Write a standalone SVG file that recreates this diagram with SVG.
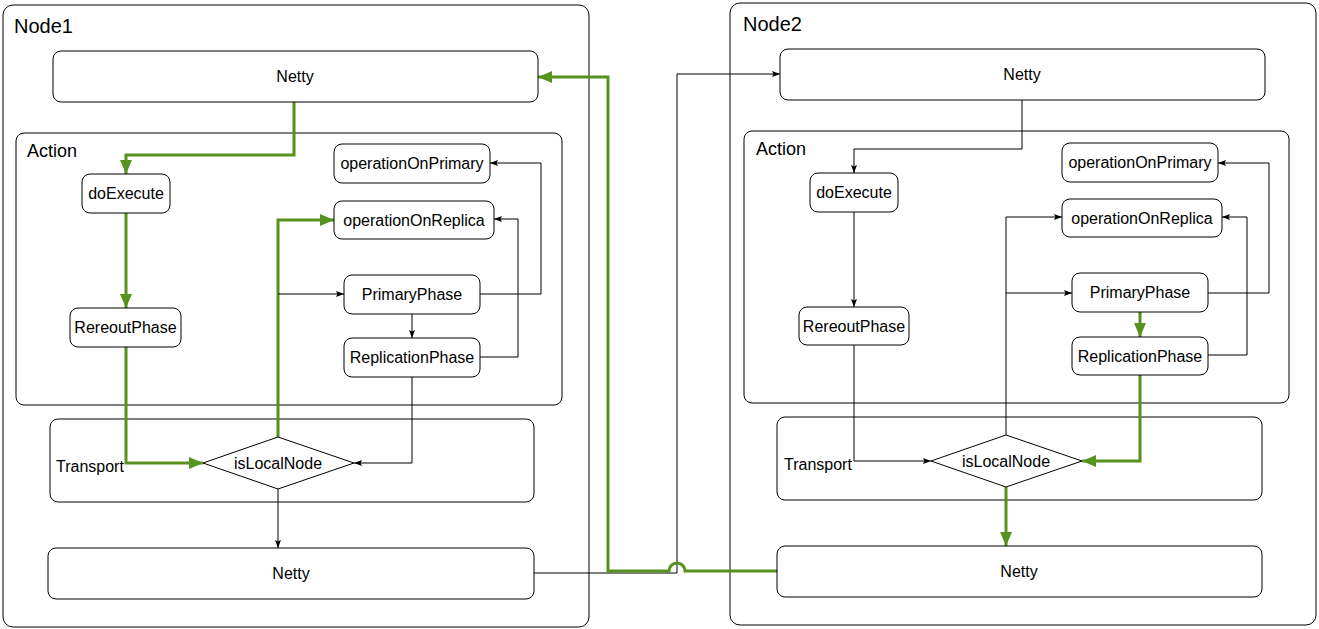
<svg xmlns="http://www.w3.org/2000/svg" width="1319" height="629" viewBox="0 0 1319 629">
<style>
.box{fill:#fff;stroke:#000;stroke-width:1}
.grp{fill:none;stroke:#000;stroke-width:1}
.t{font-family:"Liberation Sans",Arial,Helvetica,sans-serif;font-size:16px;fill:#000;text-anchor:middle}
.tl{font-family:"Liberation Sans",Arial,Helvetica,sans-serif;fill:#000}
.k{fill:none;stroke:#000;stroke-width:1;marker-end:url(#ak)}
.g{fill:none;stroke:#56921E;stroke-width:3;marker-end:url(#ag)}
</style>
<defs>
<marker id="ak" viewBox="0 0 8 6" refX="8" refY="3" markerWidth="8" markerHeight="6" markerUnits="userSpaceOnUse" orient="auto"><path d="M0,0 L8,3 L0,6 L1.5,3 z" fill="#000"/></marker>
<marker id="ag" viewBox="0 0 14 12" refX="14" refY="6" markerWidth="14" markerHeight="12" markerUnits="userSpaceOnUse" orient="auto"><path d="M0,0 L14,6 L0,12 z" fill="#56921E"/></marker>
</defs>
<rect width="1319" height="629" fill="#fff"/>
<g id="node1">
<rect class="grp" x="3" y="5" width="586" height="622" rx="10"/>
<text class="tl" x="14" y="33" font-size="20">Node1</text>
</g>
<g id="node2">
<rect class="grp" x="730" y="3" width="586" height="622" rx="10"/>
<text class="tl" x="743" y="31" font-size="20">Node2</text>
</g>
<g id="action1">
<rect class="grp" x="16" y="133" width="546" height="272" rx="8"/>
<text class="tl" x="27" y="157" font-size="18">Action</text>
</g>
<g id="action2">
<rect class="grp" x="744" y="131" width="545" height="272" rx="8"/>
<text class="tl" x="756" y="155" font-size="18">Action</text>
</g>
<g id="transport1">
<rect class="grp" x="50" y="419" width="484" height="83" rx="8"/>
<text class="tl" x="56" y="472" font-size="16">Transport</text>
</g>
<g id="transport2">
<rect class="grp" x="777" y="417" width="485" height="83" rx="8"/>
<text class="tl" x="784" y="470" font-size="16">Transport</text>
</g>
<g id="connectors">
<path class="g" d="M294,102 L294,155 L126,155 L126,174"/>
<path class="g" d="M126,213 L126,308"/>
<path class="g" d="M126,347 L126,463 L203,463"/>
<path class="g" d="M278,437 L278,220 L334,220"/>
<path class="k" d="M278,294 L344,294"/>
<path class="k" d="M480,294 L541,294 L541,163 L490,163"/>
<path class="k" d="M412,314 L412,338"/>
<path class="k" d="M480,357 L518,357 L518,219 L494,219"/>
<path class="k" d="M412,377 L412,463 L354,463"/>
<path class="k" d="M278,489 L278,548"/>
<path class="k" d="M534,573 L677,573 L677,74 L780,74"/>
<path class="g" d="M777,571 L685,571 A8,8 0 0 0 669,571 L608,571 L608,77 L538,77"/>
<path class="k" d="M1022,100 L1022,149 L854,149 L854,173"/>
<path class="k" d="M854,212 L854,307"/>
<path class="k" d="M854,345 L854,461 L931,461"/>
<path class="k" d="M1006,435 L1006,217 L1062,217"/>
<path class="k" d="M1006,293 L1072,293"/>
<path class="k" d="M1208,293 L1269,293 L1269,163 L1218,163"/>
<path class="g" d="M1140,312 L1140,337"/>
<path class="k" d="M1208,355 L1247,355 L1247,217 L1222,217"/>
<path class="g" d="M1140,375 L1140,461 L1082,461"/>
<path class="g" d="M1006,487 L1006,546"/>
</g>
<g id="n1-netty-top"><rect class="box" x="53" y="51" width="485" height="51" rx="8"/><text class="t" x="295" y="82">Netty</text></g>
<g id="n1-opPrimary"><rect class="box" x="334" y="144" width="156" height="39" rx="8"/><text class="t" x="412" y="169">operationOnPrimary</text></g>
<g id="n1-doExecute"><rect class="box" x="82" y="174" width="88" height="39" rx="8"/><text class="t" x="126" y="199">doExecute</text></g>
<g id="n1-opReplica"><rect class="box" x="334" y="201" width="160" height="38" rx="8"/><text class="t" x="414" y="226">operationOnReplica</text></g>
<g id="n1-primaryPhase"><rect class="box" x="344" y="275" width="136" height="39" rx="8"/><text class="t" x="412" y="300">PrimaryPhase</text></g>
<g id="n1-rereoutPhase"><rect class="box" x="70" y="308" width="111" height="39" rx="8"/><text class="t" x="125.5" y="333">RereoutPhase</text></g>
<g id="n1-replicationPhase"><rect class="box" x="344" y="338" width="136" height="39" rx="8"/><text class="t" x="412" y="363">ReplicationPhase</text></g>
<g id="n1-isLocalNode"><polygon class="box" points="203,463 278,437 354,463 278,489"/><text class="t" x="278" y="468.5">isLocalNode</text></g>
<g id="n1-netty-bottom"><rect class="box" x="48" y="548" width="486" height="51" rx="8"/><text class="t" x="291" y="579">Netty</text></g>
<g id="n2-netty-top"><rect class="box" x="780" y="49" width="485" height="51" rx="8"/><text class="t" x="1022" y="80">Netty</text></g>
<g id="n2-opPrimary"><rect class="box" x="1062" y="143" width="156" height="39" rx="8"/><text class="t" x="1140" y="168">operationOnPrimary</text></g>
<g id="n2-doExecute"><rect class="box" x="810" y="173" width="88" height="39" rx="8"/><text class="t" x="854" y="198">doExecute</text></g>
<g id="n2-opReplica"><rect class="box" x="1062" y="199" width="160" height="38" rx="8"/><text class="t" x="1142" y="224">operationOnReplica</text></g>
<g id="n2-primaryPhase"><rect class="box" x="1072" y="273" width="136" height="39" rx="8"/><text class="t" x="1140" y="298">PrimaryPhase</text></g>
<g id="n2-rereoutPhase"><rect class="box" x="799" y="307" width="110" height="38" rx="8"/><text class="t" x="854" y="331.5">RereoutPhase</text></g>
<g id="n2-replicationPhase"><rect class="box" x="1072" y="337" width="136" height="38" rx="8"/><text class="t" x="1140" y="361.5">ReplicationPhase</text></g>
<g id="n2-isLocalNode"><polygon class="box" points="931,461 1006,435 1082,461 1006,487"/><text class="t" x="1006" y="466.5">isLocalNode</text></g>
<g id="n2-netty-bottom"><rect class="box" x="777" y="546" width="485" height="51" rx="8"/><text class="t" x="1019" y="577">Netty</text></g>
</svg>
